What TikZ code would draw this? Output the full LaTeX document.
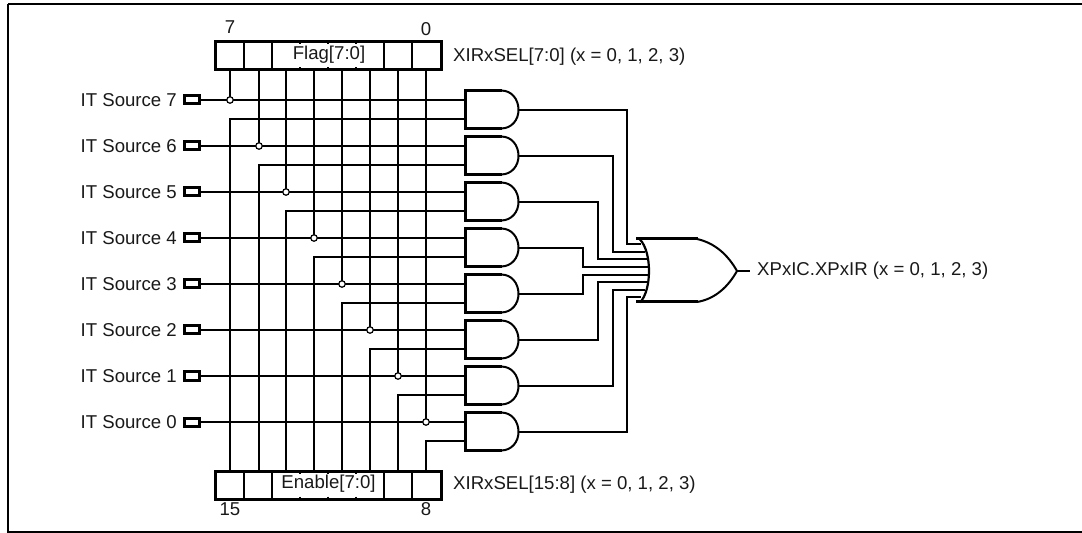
\documentclass[tikz,border=0pt]{standalone}
\usepackage{fontspec}
\setmainfont{Liberation Sans}
\tikzset{
  wire/.style={line width=1.7bp,line cap=butt},
  divider/.style={line width=2bp},
  thick box/.style={line width=3bp},
  lbl/.style={font=\fontsize{18.6bp}{20bp}\selectfont,inner sep=0pt,text=black!90},
  junction/.style={circle,draw,fill=white,line width=1.2bp,minimum size=6.5bp,inner sep=0pt},
  pad/.style={draw,line width=3bp,minimum width=15bp,minimum height=8bp,inner sep=0pt,outer sep=0pt},
}
\begin{document}
\begin{tikzpicture}[x=1bp,y=-1bp]
\useasboundingbox (0,0) rectangle (1082,533);
\draw[line width=2bp] (8,4.3) -- (1090,4.3) (8,4.3) -- (8,531.5) -- (1090,531.5);
% registers
\node[draw,thick box,minimum width=226bp,minimum height=28bp,inner sep=0pt,outer sep=0pt] (flag) at (328,56) {};
\node[draw,thick box,minimum width=226bp,minimum height=28bp,inner sep=0pt,outer sep=0pt] (enable) at (328,485) {};
\foreach \x in {244,272,384,412}{
  \draw[divider] (\x,42) -- (\x,70);
  \draw[divider] (\x,471) -- (\x,499);
}
\foreach \x in {300,328,356}{
  \draw[divider] (\x,42) -- (\x,44.5) (\x,67.5) -- (\x,70);
  \draw[divider] (\x,471) -- (\x,473.5) (\x,496.5) -- (\x,499);
}
\node[lbl] at (329,55) {Flag[7:0]};
\node[lbl] at (328.5,484) {Enable[7:0]};
\node[lbl] at (230,27) {7};
\node[lbl] at (426,29) {0};
\node[lbl] at (230,509) {15};
\node[lbl] at (426,509) {8};
\node[lbl,anchor=west] at (453,57) {XIRxSEL[7:0] (x = 0, 1, 2, 3)};
\node[lbl,anchor=west] at (453,485) {XIRxSEL[15:8] (x = 0, 1, 2, 3)};
% inputs, gates, wires
\foreach \i/\n/\xx in {0/7/230,1/6/259,2/5/286,3/4/314,4/3/342,5/2/370,6/1/398,7/0/426}{
  \pgfmathsetmacro{\ya}{100+46*\i}
  \pgfmathsetmacro{\yb}{119+46*\i}
  \pgfmathsetmacro{\yt}{90.5+46*\i}
  \pgfmathsetmacro{\ybt}{128.5+46*\i}
  \pgfmathsetmacro{\yo}{110+46*\i}
  \node[lbl,anchor=east] (lab\n) at (177,\ya) {IT Source \n};
  \node[pad] (src\n) at (191.5,\ya) {};
  \coordinate (ina\n) at (465,\ya);
  \coordinate (inb\n) at (465,\yb);
  \coordinate (out\n) at (518.5,\yo);
  \coordinate (fl\n) at (\xx,70);
  \coordinate (en\n) at (\xx,471);
  \draw[wire] (src\n.east) -- (ina\n);
  \draw[wire] (en\n) |- (inb\n);
  \draw[wire] (fl\n) -- (\xx,\ya);
  \node[junction] (j\n) at (\xx,\ya) {};
  % AND gate
  \draw[thick box,fill=white] (502,\yt) -- (465,\yt) -- (465,\ybt) -- (502,\ybt);
  \draw[line width=2bp] (501,\yt) .. controls (512,\yt) and (518.5,\yt+9) .. (out\n) .. controls (518.5,\ybt-9) and (512,\ybt) .. (501,\ybt);
}
% OR gate
\draw[line width=2.2bp] (640,239.5) .. controls (652,252) and (652,290) .. (640,302.5);
\draw[thick box] (636,239) -- (698,239);
\draw[thick box] (636,302) -- (698,302);
\draw[line width=2bp] (697,239) .. controls (715,243) and (728,255) .. (737,271) coordinate (ortip) .. controls (728,287) and (715,299) .. (697,302);
\foreach \n/\xa/\ya/\xe in {7/627/244/641,6/613/252/645,5/598/259/647,4/583/267/648.5,3/583/275/648.5,2/598/282/647,1/613/290/645,0/627/297/641}{
  \coordinate (orin\n) at (\xe,\ya);
  \draw[wire] (out\n) -| (\xa,\ya) -- (orin\n);
}
\coordinate (result) at (750,271);
\draw[wire] (ortip) -- (result);
\node[lbl,anchor=west] at (757,271) {XPxIC.XPxIR (x = 0, 1, 2, 3)};
\end{tikzpicture}
\end{document}
